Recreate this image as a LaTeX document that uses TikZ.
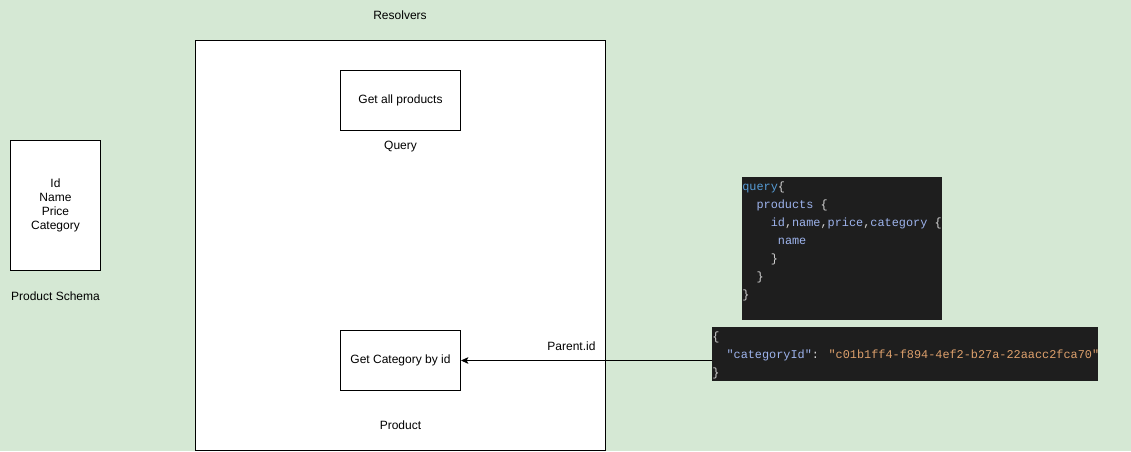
\documentclass[tikz,border=0pt]{standalone}
\usepackage{fontspec}
\setmainfont{Liberation Sans}
\newfontfamily\codefont{Liberation Mono}
\usetikzlibrary{arrows.meta,positioning}
\definecolor{bggreen}{HTML}{D5E8D4}
\definecolor{codebg}{HTML}{1E1E1E}
\definecolor{codekw}{HTML}{569CD6}
\definecolor{codeprop}{HTML}{9DB3EC}
\definecolor{codebrace}{HTML}{D4D4D4}
\definecolor{codestr}{HTML}{DDA06C}
\tikzset{
  box/.style={draw, fill=white, line width=0.75pt, font=\fontsize{9}{10.5}\selectfont, align=center, inner sep=0pt},
  lab/.style={font=\fontsize{9}{10.5}\selectfont, text=black},
  codeblk/.style={fill=codebg, inner sep=0pt, anchor=north west},
  codetxt/.style={font=\codefont\fontsize{8.9}{13.5}\selectfont, align=left, inner sep=0pt, anchor=north west, text=codebrace},
  arr/.style={-{Stealth[length=5.5pt,width=5pt,inset=1.2pt]}, line width=0.75pt}
}
\newcommand{\kw}[1]{\textcolor{codekw}{#1}}
\newcommand{\prop}[1]{\textcolor{codeprop}{#1}}
\newcommand{\str}[1]{\textcolor{codestr}{#1}}

\begin{document}
\begin{tikzpicture}[x=0.75pt,y=-0.75pt]

% ---------------- Background ----------------
\fill[bggreen] (0,0) rectangle (1131,451);
\useasboundingbox (0,0) rectangle (1131,451);

% ---------------- Schema ----------------
\node[box, anchor=north west, minimum width=67.5pt, minimum height=97.5pt] (schema) at (10,140) {Id\\Name\\Price\\Category};
\node[lab, below=12pt of schema] (schemalab) {Product Schema};

% ---------------- Resolvers ----------------
\node[box, anchor=north west, minimum width=307.5pt, minimum height=307.5pt] (res) at (195,40) {};
\node[lab] (reslab) at (400,15) {Resolvers};

\node[box, anchor=north west, minimum width=90pt, minimum height=45pt] (allprod) at (340,70) {Get all products};
\node[lab, below=4pt of allprod] (qlab) {Query};

\node[box, anchor=north west, minimum width=90pt, minimum height=45pt] (catbyid) at (340,330) {Get Category by id};
\node[lab, below=18.5pt of catbyid] (plab) {Product};

% ---------------- Query code ----------------
\node[codeblk, minimum width=150pt, minimum height=107.25pt] (qry) at (742,177) {};
\node[codetxt] (qrytxt) at (742,182) {%
\kw{query}\{\\
\phantom{xx}\prop{products} \{\\
\phantom{xxxx}\prop{id},\prop{name},\prop{price},\prop{category} \{\\
\phantom{xxxxx}\prop{name}\\
\phantom{xxxx}\}\\
\phantom{xx}\}\\
\}};

% ---------------- Parent json ----------------
\node[codeblk, minimum width=289.5pt, minimum height=40.5pt] (json) at (712,327) {};
\node[codetxt] (jsontxt) at (712,332) {%
\{\\
\phantom{xx}\prop{"categoryId"}: \str{"c01b1ff4-f894-4ef2-b27a-22aacc2fca70"}\\
\}};

% ---------------- Connector ----------------
\draw[arr] (json.west |- catbyid.east) -- (catbyid.east) node[lab, pos=0.56, above=3.5pt] {Parent.id};

\end{tikzpicture}
\end{document}
